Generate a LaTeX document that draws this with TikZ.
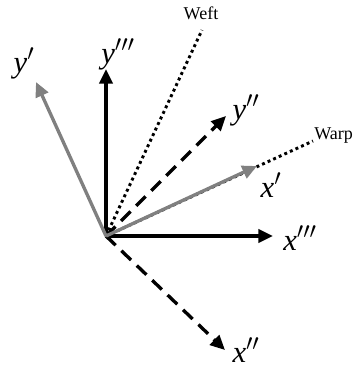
\documentclass[tikz,border=0pt]{standalone}
\usepackage{fontspec}
\setmainfont{Liberation Serif}
\usetikzlibrary{arrows.meta}

\begin{document}
\begin{tikzpicture}[x=0.75pt, y=-0.75pt,
  axis/.style={line width=2.5pt, -{Triangle[length=11pt, width=10pt]}},
  grayaxis/.style={axis, draw=gray},
  dashaxis/.style={axis, dash pattern=on 10pt off 6pt},
  yarn/.style={line width=2.2pt, dash pattern=on 2.2pt off 2.4pt},
  lbl/.style={font=\fontsize{23}{26}\selectfont, inner sep=0pt},
  yarnlbl/.style={font=\fontsize{13.5}{15}\selectfont, inner sep=0pt}
]
\useasboundingbox (0,0) rectangle (358,369);
\coordinate (o) at (106,236);
% yarn directions
\coordinate (weft) at (202,30);
\coordinate (warp) at (313,141);
\node[yarnlbl] (wefttext) at (201,13) {Weft};
\node[yarnlbl, anchor=west] (warptext) at (314,136) {Warp};
\draw[yarn] (o) -- (weft);
\draw[yarn] (o) -- (warp);
% axes
\node[lbl] (x3) at (300,238) {$\textit{x}'''$};
\node[lbl] (y3) at (118,54) {$\textit{y}'''$};
\node[lbl] (x1) at (271,185) {$\textit{x}'$};
\node[lbl] (y1) at (24,63) {$\textit{y}'$};
\node[lbl] (x2) at (246,350) {$\textit{x}''$};
\node[lbl] (y2) at (246,110) {$\textit{y}''$};
\coordinate (x3tip) at (273,236);
\coordinate (y3tip) at (106,69);
\coordinate (x1tip) at (257,166);
\coordinate (y1tip) at (36,82);
\coordinate (x2tip) at (225,350);
\coordinate (y2tip) at (226,116);
\draw[dashaxis] (o) -- (x2tip);
\draw[dashaxis] (o) -- (y2tip);
\draw[axis] (o) -- (x3tip);
\draw[axis] (o) -- (y3tip);
\draw[grayaxis] (o) -- (x1tip);
\draw[grayaxis] (o) -- (y1tip);
\end{tikzpicture}
\end{document}
